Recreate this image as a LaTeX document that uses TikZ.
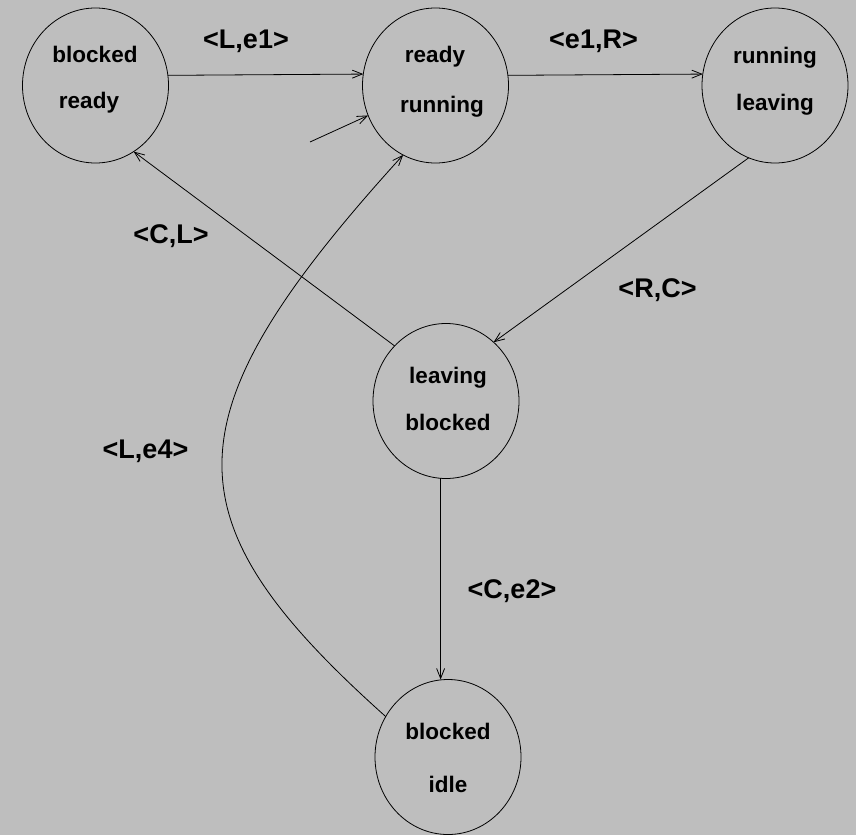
\documentclass[tikz,border=0pt]{standalone}
\usepackage{fontspec}
\setmainfont{Liberation Sans}
\usetikzlibrary{shapes.geometric,arrows.meta}
\definecolor{bg}{RGB}{190,190,190}
\begin{document}
\begin{tikzpicture}[x=1pt,y=-1pt,
  state/.style={draw, ellipse, minimum width=146pt, minimum height=155pt, inner sep=0pt, outer sep=0pt, line width=0.8pt},
  stxt/.style={anchor=base, inner sep=0pt, font=\fontsize{22.5}{22.5}\selectfont\bfseries},
  lbl/.style={anchor=base, inner sep=0pt, font=\fontsize{27}{27}\selectfont\bfseries},
  arr/.style={line width=0.8pt, -{Straight Barb[length=10pt,width=8pt,line width=0.8pt]}}]
\fill[bg] (0,0) rectangle (856,835);
\useasboundingbox (0,0) rectangle (856,835);

\node[state] (br) at (95.5,85.5) {};
\node[state] (rr) at (435.5,85.5) {};
\node[state] (rl) at (775,85.5) {};
\node[state] (lb) at (446,401) {};
\node[state] (bi) at (448,757) {};

\node[stxt] (br1) at (95,62) {blocked};
\node[stxt] (br2) at (89,108) {ready};
\node[stxt] (rr1) at (435,62) {ready};
\node[stxt] (rr2) at (442,112) {running};
\node[stxt] (rl1) at (775,63) {running};
\node[stxt] (rl2) at (775,110) {leaving};
\node[stxt] (lb1) at (448,383) {leaving};
\node[stxt] (lb2) at (448,430) {blocked};
\node[stxt] (bi1) at (448,739) {blocked};
\node[stxt] (bi2) at (448,792) {idle};

\node[lbl] (l1) at (246,48) {<L,e1>};
\node[lbl] (l2) at (593.5,48) {<e1,R>};
\node[lbl] (l3) at (171,243) {<C,L>};
\node[lbl] (l4) at (145.5,458) {<L,e4>};
\node[lbl] (l5) at (657.5,297) {<R,C>};
\node[lbl] (l6) at (512,598) {<C,e2>};

\coordinate (init) at (310,142);

\draw[arr] (br.8.3) -- (rr.171.7);
\draw[arr] (rr.8.3) -- (rl.171.7);
\draw[arr] (init) -- (rr.204);
\draw[arr] (rl.250.5) -- (lb.51);
\draw[arr] (lb.133.3) -- (br.300.2);
\draw[arr] (lb.266) -- (lb.266 |- bi.north);
\draw[arr] (bi.147.6) .. controls (164.7,519) and (164.7,417.6) .. (rr.245.6);
\end{tikzpicture}
\end{document}
